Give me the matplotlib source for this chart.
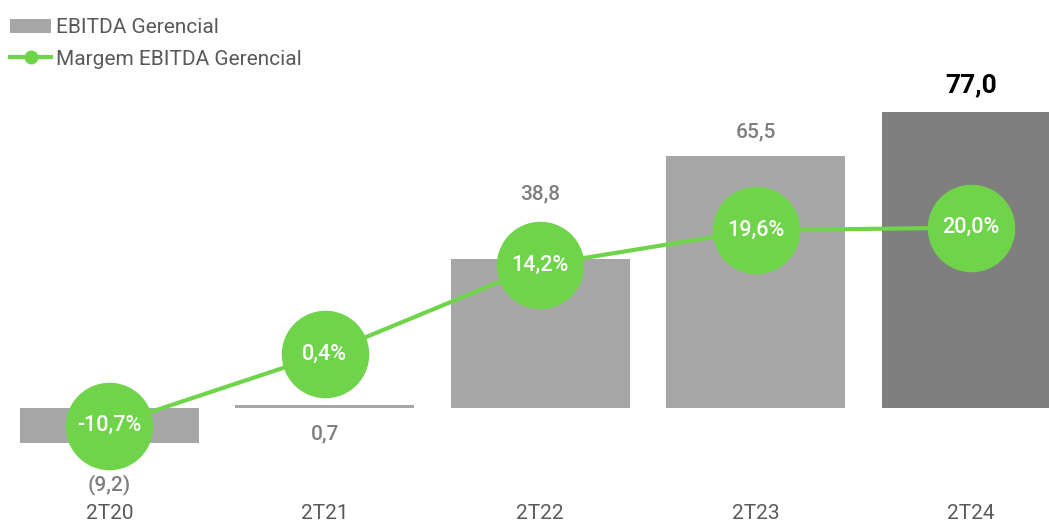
import matplotlib.pyplot as plt
from matplotlib.patches import Patch
from matplotlib.lines import Line2D

plt.rcParams['font.family'] = ['Roboto', 'DejaVu Sans']

# Dados
periodos = ['2T20', '2T21', '2T22', '2T23', '2T24']
ebitda = [-9.2, 0.7, 38.8, 65.5, 77.0]
margem = [-10.7, 0.4, 14.2, 19.6, 20.0]
ebitda_labels = ['(9,2)', '0,7', '38,8', '65,5', '77,0']
margem_labels = ['-10,7%', '0,4%', '14,2%', '19,6%', '20,0%']

cinza = '#A6A6A6'
cinza_escuro = '#7F7F7F'
verde = '#70D44B'

fig = plt.figure(figsize=(10.49, 5.24), dpi=100)
ax = fig.add_axes([0, 0, 1, 1])
ax.set_xlim(-0.508, 4.362)
ax.set_ylim(-30.2, 106.25)
ax.axis('off')

x = range(len(periodos))
cores = [cinza] * 4 + [cinza_escuro]
ax.bar(x, ebitda, width=0.83, color=cores, zorder=1)

# rotulos das barras (deslocamento em pixels a partir da ponta da barra)
desloc = [-41, -29, 65, 25, 27]
for i, v in enumerate(ebitda):
    ultimo = i == len(ebitda) - 1
    ax.annotate(ebitda_labels[i], (i, v), xytext=(0, desloc[i]),
                textcoords='offset pixels', ha='center', va='center',
                fontsize=19 if ultimo else 15,
                fontweight='bold' if ultimo else 'medium',
                color='black' if ultimo else '#7F7F7F')

# categorias no rodape
for i, p in enumerate(periodos):
    ax.text(i, -27.4, p, ha='center', va='center', fontsize=15,
            color='#595959')

ax2 = ax.twinx()
ax2.set_ylim(-25.95, 55.3)
ax2.axis('off')
ax2.plot(x, margem, color=verde, lw=3, marker='o', markersize=62,
         markerfacecolor=verde, markeredgecolor=verde, zorder=2)
for i, m in enumerate(margem):
    ax2.text(i, m, margem_labels[i], ha='center', va='center', fontsize=15.5,
             fontweight='medium', color='white', zorder=3)

handles = [Patch(facecolor=cinza, edgecolor='none'),
           Line2D([0], [0], color=verde, lw=3, marker='o', markersize=9)]
fig.legend(handles, ['EBITDA Gerencial', 'Margem EBITDA Gerencial'],
           loc='upper left', bbox_to_anchor=(0.0, 0.985), frameon=False,
           fontsize=15, labelcolor='#595959', handlelength=1.95,
           handletextpad=0.25, labelspacing=0.6, borderaxespad=0.3,
           borderpad=0.2)

fig.savefig('out.png', dpi=100)
